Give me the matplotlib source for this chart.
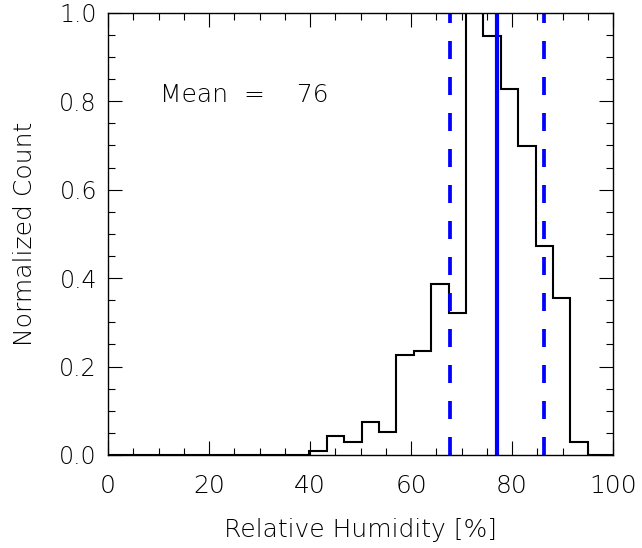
import matplotlib.pyplot as plt
import numpy as np

# relative humidity histogram, normalized to the peak bin
edges = np.linspace(39.9, 95.0, 17)
counts = [0.01, 0.043, 0.030, 0.074, 0.052, 0.225, 0.236, 0.387,
          0.322, 1.0, 0.947, 0.827, 0.699, 0.472, 0.354, 0.030]
mean_rh = 77.0
std_rh = 9.3
mean_label = 76

plt.rcParams['font.family'] = ['DejaVu Sans']
plt.rcParams['font.weight'] = 'light'
plt.rcParams['axes.labelweight'] = 'light'

fig = plt.figure(figsize=(6.42, 5.48), dpi=100)
ax = fig.add_axes([108/642, 1 - 455/548, 505/642, 442.3/548])

# pad with empty bins so the outline runs across the whole axis
all_edges = np.concatenate([[0], edges, [100]])
all_counts = np.concatenate([[0], counts, [0]])
ax.stairs(all_counts, all_edges, color='black', lw=1.5, baseline=None)

ax.axvline(mean_rh, color='blue', lw=3.0)
for x in (mean_rh - std_rh, mean_rh + std_rh):
    ax.axvline(x, color='blue', lw=2.7, linestyle=(0, (4.8, 4.8)))

ax.text(10.3, 0.798, 'Mean  =    %d' % mean_label, fontsize=18,
        ha='left', va='baseline')

ax.set_xlim(0, 100)
ax.set_ylim(0, 1.0)
ax.set_xticks(np.arange(0, 101, 20))
ax.set_xticks(np.arange(0, 101, 5), minor=True)
ax.set_yticks(np.arange(0, 1.01, 0.2))
ax.set_yticks(np.arange(0, 1.01, 0.05), minor=True)
ax.yaxis.set_major_formatter(plt.FormatStrFormatter('%.1f'))

ax.tick_params(which='both', direction='in', top=True, right=True,
               width=0.8)
ax.tick_params(which='major', length=10)
ax.tick_params(which='minor', length=5)
ax.tick_params(axis='x', pad=14, labelsize=18)
ax.tick_params(axis='y', pad=8, labelsize=17)
for s in ax.spines.values():
    s.set_linewidth(1.0)

ax.set_xlabel('Relative Humidity [%]', fontsize=18, labelpad=14)
ax.set_ylabel('Normalized Count', fontsize=18, labelpad=16)

fig.savefig('out.png', dpi=100)
